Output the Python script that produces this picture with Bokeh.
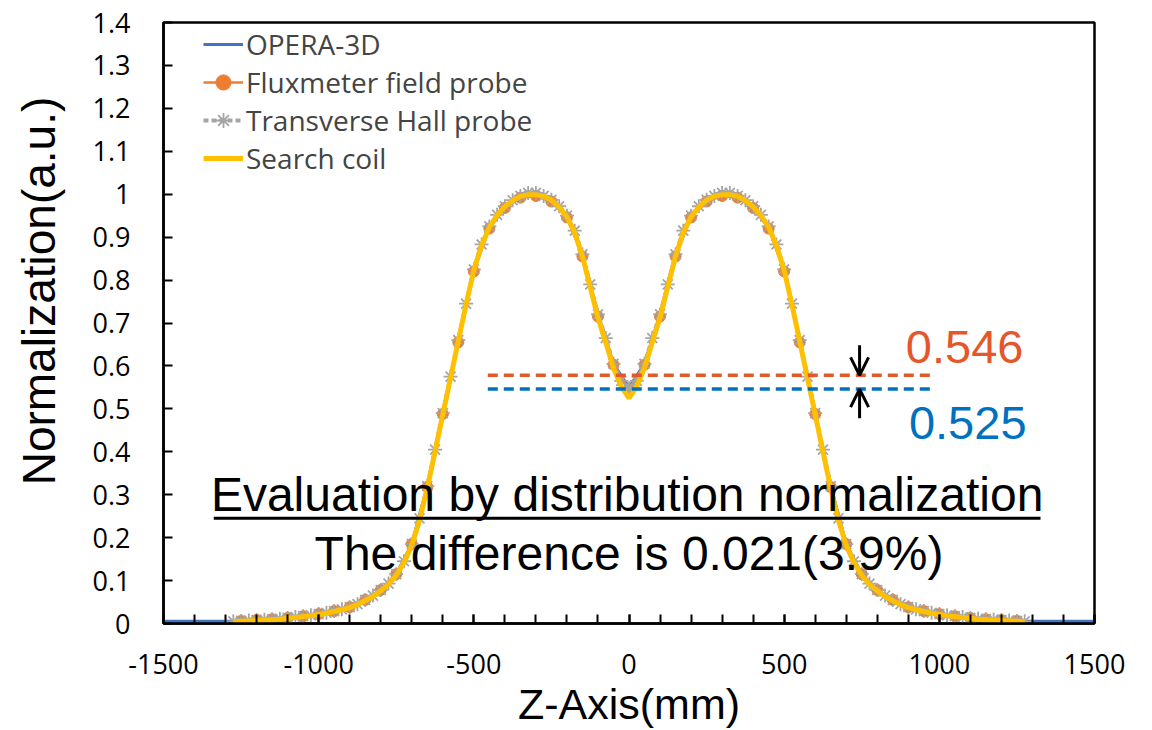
from bokeh.plotting import figure
from bokeh.models import (Range1d, Legend, LegendItem, Arrow, OpenHead, CustomJSTickFormatter,
                          SingleIntervalTicker, FixedTicker, Label)
from bokeh.embed import file_html
from bokeh.resources import INLINE

# ---------------- data ----------------
opera_z = list(range(-1500, 1501, 50))
opera_v = [0.005, 0.005, 0.005, 0.005, 0.005, 0.006, 0.008, 0.010, 0.013, 0.017,
           0.022, 0.029, 0.038, 0.055, 0.078, 0.115, 0.185, 0.320, 0.490, 0.660,
           0.825, 0.925, 0.972, 0.996, 1.000, 0.987, 0.950, 0.860, 0.720, 0.605,
           0.550,
           0.605, 0.720, 0.860, 0.950, 0.987, 1.000, 0.996, 0.972, 0.925, 0.825,
           0.660, 0.490, 0.320, 0.185, 0.115, 0.078, 0.055, 0.038, 0.029, 0.022,
           0.017, 0.013, 0.010, 0.008, 0.006, 0.005, 0.005, 0.005, 0.005, 0.005]

flux_z = list(range(-1250, 1251, 50))
flux_v = [0.006, 0.008, 0.010, 0.013, 0.017, 0.022, 0.029, 0.038, 0.055, 0.078,
          0.115, 0.185, 0.318, 0.488, 0.655, 0.820, 0.920, 0.968, 0.992, 0.996,
          0.983, 0.946, 0.855, 0.715, 0.603,
          0.546,
          0.603, 0.715, 0.855, 0.946, 0.983,
          0.996, 0.992, 0.968, 0.920, 0.820, 0.655, 0.488, 0.318, 0.185, 0.115,
          0.078, 0.055, 0.038, 0.029, 0.022, 0.017, 0.013, 0.010, 0.008, 0.006]

hall_z = list(range(-1275, 1276, 25))
hall_v = [0.005, 0.006, 0.007, 0.008, 0.009, 0.010, 0.011, 0.013, 0.015, 0.017,
          0.019, 0.022, 0.025, 0.029, 0.033, 0.038, 0.045, 0.055, 0.065, 0.078,
          0.093, 0.115, 0.145, 0.185, 0.245, 0.320, 0.405, 0.490, 0.575, 0.660,
          0.745, 0.825, 0.883, 0.925, 0.952, 0.972, 0.986, 0.996, 1.003, 1.003,
          0.996, 0.987, 0.972, 0.950, 0.915, 0.860, 0.790, 0.720, 0.665, 0.605,
          0.565,
          0.548,
          0.565,
          0.605, 0.665, 0.720, 0.790, 0.860, 0.915, 0.950, 0.972, 0.987, 0.996,
          1.003, 1.003, 0.996, 0.986, 0.972, 0.952, 0.925, 0.883, 0.825, 0.745,
          0.660, 0.575, 0.490, 0.405, 0.320, 0.245, 0.185, 0.145, 0.115, 0.093,
          0.078, 0.065, 0.055, 0.045, 0.038, 0.033, 0.029, 0.025, 0.022, 0.019,
          0.017, 0.015, 0.013, 0.011, 0.010, 0.009, 0.008, 0.007, 0.006, 0.005]

coil_z = list(range(-1275, 1276, 25))
coil_v = [0.004, 0.005, 0.006, 0.007, 0.008, 0.009, 0.010, 0.012, 0.014, 0.016,
          0.018, 0.021, 0.024, 0.028, 0.032, 0.037, 0.044, 0.053, 0.063, 0.076,
          0.091, 0.112, 0.142, 0.182, 0.240, 0.315, 0.400, 0.487, 0.572, 0.658,
          0.743, 0.823, 0.881, 0.923, 0.951, 0.971, 0.985, 0.995, 0.999, 0.999,
          0.995, 0.986, 0.970, 0.947, 0.911, 0.855, 0.784, 0.712, 0.655, 0.595,
          0.552,
          0.525,
          0.552,
          0.595, 0.655, 0.712, 0.784, 0.855, 0.911, 0.947, 0.970, 0.986, 0.995,
          0.999, 0.999, 0.995, 0.985, 0.971, 0.951, 0.923, 0.881, 0.823, 0.743,
          0.658, 0.572, 0.487, 0.400, 0.315, 0.240, 0.182, 0.142, 0.112, 0.091,
          0.076, 0.063, 0.053, 0.044, 0.037, 0.032, 0.028, 0.024, 0.021, 0.018,
          0.016, 0.014, 0.012, 0.010, 0.009, 0.008, 0.007, 0.006, 0.005, 0.004]

series_names = ["OPERA-3D", "Fluxmeter field probe", "Transverse Hall probe", "Search coil"]
y_ticks = [0.0, 0.1, 0.2, 0.3, 0.4, 0.5, 0.6, 0.7, 0.8, 0.9, 1.0, 1.1, 1.2, 1.3, 1.4]
x_title = "Z-Axis(mm)"
y_title = "Normalization(a.u.)"

ref_x = [-455, 970]          # extent of the two dashed reference lines
ref_y = [0.578, 0.546]       # red line, blue line
ref_labels = ["0.546", "0.525"]
arrow_x = 743
arrow_top = [0.648, 0.578]   # start, end (pointing down)
arrow_bot = [0.478, 0.546]   # start, end (pointing up)
note_lines = ["Evaluation by distribution normalization", "The difference is 0.021(3.9%)"]

# ---------------- styling ----------------
C_BLUE = "#4472C4"
C_ORANGE = "#ED7D31"
C_GRAY = "#A5A5A5"
C_YELLOW = "#FFC000"
C_RED_REF = "#E4572A"
C_BLUE_REF = "#0070C0"
TICK_FONT = "Open Sans"
ARIAL = "Liberation Sans"

p = figure(width=1152, height=730, x_range=Range1d(-1500, 1500), y_range=Range1d(0, 1.4),
           output_backend="svg", toolbar_location=None,
           min_border_left=163, min_border_right=58, min_border_top=22, min_border_bottom=107)
p.grid.visible = False
p.background_fill_color = "white"
p.border_fill_color = "white"
p.outline_line_color = "black"
p.outline_line_width = 2.5

p.xaxis.ticker = SingleIntervalTicker(interval=500, num_minor_ticks=5)
p.yaxis.ticker = FixedTicker(ticks=y_ticks)
p.xaxis.formatter = CustomJSTickFormatter(code="return Math.round(tick).toString();")
p.yaxis.formatter = CustomJSTickFormatter(code="return (Math.round(tick*10)/10).toString();")
for ax in (p.xaxis, p.yaxis):
    ax.axis_line_color = "black"
    ax.axis_line_width = 2.5
    ax.major_tick_in = 9
    ax.major_tick_out = 0
    ax.major_tick_line_width = 2
    ax.major_tick_line_color = "black"
    ax.minor_tick_in = 9
    ax.minor_tick_out = 0
    ax.minor_tick_line_width = 2
    ax.minor_tick_line_color = "black"
    ax.major_label_text_font = TICK_FONT
    ax.major_label_text_font_size = "27px"
    ax.major_label_text_color = "black"
    ax.axis_label_text_font = ARIAL
    ax.axis_label_text_font_style = "normal"
    ax.axis_label_text_color = "black"
p.xaxis.major_label_standoff = 30
p.yaxis.major_label_standoff = 33

p.xaxis.axis_label = x_title
p.xaxis.axis_label_text_font_size = "43px"
p.xaxis.axis_label_standoff = 3
# leading no-break spaces lift the rotated title a little above the frame centre, as in the reference
p.yaxis.axis_label = "\u00a0" * 5 + y_title
p.yaxis.axis_label_text_font_size = "46px"
p.yaxis.axis_label_standoff = 25

# ---------------- series ----------------
r_opera = p.line(opera_z, opera_v, line_color=C_BLUE, line_width=3)
r_flux_l = p.line(flux_z, flux_v, line_color=C_ORANGE, line_width=2.5)
r_flux_m = p.scatter(flux_z, flux_v, marker="circle", size=11, fill_color=C_ORANGE, line_color=C_ORANGE)
r_hall_l = p.line(hall_z, hall_v, line_color=C_GRAY, line_width=4, line_dash="5 3")
r_hall_m = p.scatter(hall_z, hall_v, marker="asterisk", size=14, line_color=C_GRAY, line_width=1.8)
r_coil = p.line(coil_z, coil_v, line_color=C_YELLOW, line_width=5)

# ---------------- reference lines, arrows, texts ----------------
p.line(ref_x, [ref_y[0], ref_y[0]], line_color=C_RED_REF, line_width=3.5, line_dash="10 6")
p.line(ref_x, [ref_y[1], ref_y[1]], line_color=C_BLUE_REF, line_width=3.5, line_dash="10 6")
p.add_layout(Arrow(end=OpenHead(size=18, line_width=3, line_color="black"),
                   x_start=arrow_x, y_start=arrow_top[0], x_end=arrow_x, y_end=arrow_top[1],
                   line_width=3, line_color="black"))
p.add_layout(Arrow(end=OpenHead(size=18, line_width=3, line_color="black"),
                   x_start=arrow_x, y_start=arrow_bot[0], x_end=arrow_x, y_end=arrow_bot[1],
                   line_width=3, line_color="black"))

p.add_layout(Label(x=892, y=0.643, text=ref_labels[0], text_font=ARIAL, text_font_size="47px",
                   text_color=C_RED_REF, text_align="left", text_baseline="middle"))
p.add_layout(Label(x=902, y=0.466, text=ref_labels[1], text_font=ARIAL, text_font_size="47px",
                   text_color=C_BLUE_REF, text_align="left", text_baseline="middle"))

p.add_layout(Label(x=-6, y=0.30, text=note_lines[0], text_font=ARIAL, text_font_size="48px",
                   text_color="black", text_align="center", text_baseline="middle"))
p.segment(x0=[-1338], y0=[0.245], x1=[1326], y1=[0.245], line_color="black", line_width=3)
p.add_layout(Label(x=0, y=0.163, text=note_lines[1], text_font=ARIAL, text_font_size="48px",
                   text_color="black", text_align="center", text_baseline="middle"))

# ---------------- legend ----------------
legend = Legend(items=[
    LegendItem(label=series_names[0], renderers=[r_opera]),
    LegendItem(label=series_names[1], renderers=[r_flux_l, r_flux_m]),
    LegendItem(label=series_names[2], renderers=[r_hall_l, r_hall_m]),
    LegendItem(label=series_names[3], renderers=[r_coil]),
], location=(40, 446), padding=0, margin=0, spacing=0, glyph_width=40, glyph_height=38,
    label_height=38, label_standoff=3, label_text_font=TICK_FONT, label_text_font_size="28px",
    border_line_alpha=0, background_fill_alpha=0)
p.add_layout(legend)

open("out.html", "w").write(file_html(p, INLINE))
